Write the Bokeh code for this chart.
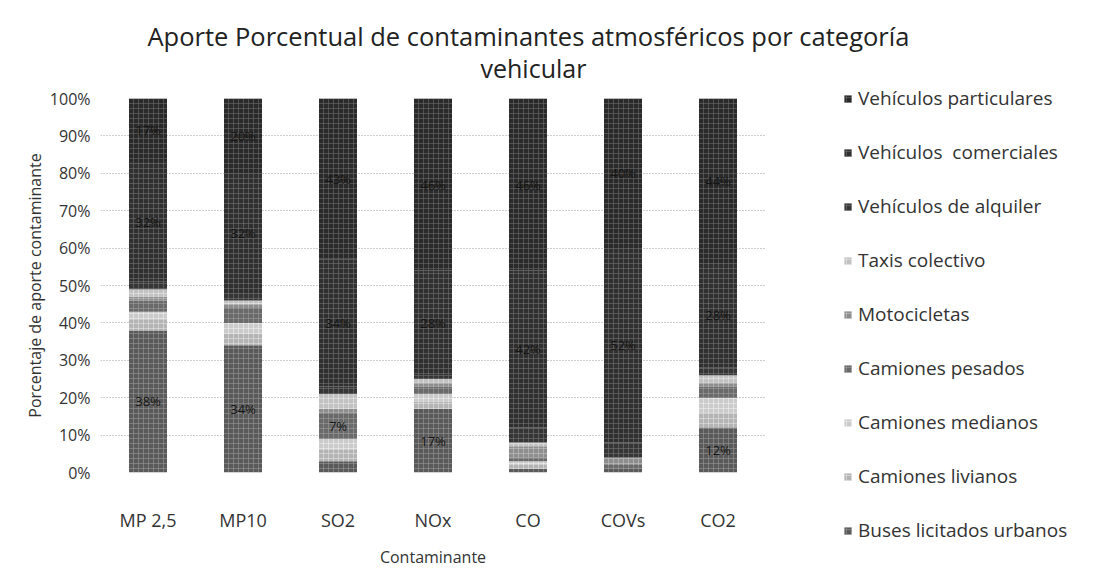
from bokeh.plotting import figure
from bokeh.models import (ColumnDataSource, Legend, LegendItem, Title, NumeralTickFormatter,
                          FixedTicker)
from bokeh.core.properties import value
from bokeh.embed import file_html
from bokeh.resources import INLINE

contaminantes = ["MP 2,5", "MP10", "SO2", "NOx", "CO", "COVs", "CO2"]

buses = [38, 34, 3, 17, 1, 1, 12]
cam_livianos = [3, 3, 3, 2, 1, 0, 4]
cam_medianos = [2, 3, 3, 2, 1, 0, 4]
cam_pesados = [3, 4, 7, 2, 1, 1, 3]
motos = [1, 1, 1, 1, 3, 2, 1]
taxis = [2, 1, 4, 1, 1, 0, 2]
alquiler = [2, 2, 2, 1, 4, 4, 2]
comerciales = [32, 32, 34, 28, 42, 52, 28]
particulares = [17, 20, 43, 46, 46, 40, 44]

series_names = ["Buses licitados urbanos", "Camiones livianos", "Camiones medianos",
                "Camiones pesados", "Motocicletas", "Taxis colectivo",
                "Vehículos de alquiler", "Vehículos  comerciales", "Vehículos particulares"]
series_vals = [buses, cam_livianos, cam_medianos, cam_pesados, motos, taxis,
               alquiler, comerciales, particulares]
fills = ["#5a5a5a", "#b4b4b4", "#cbcbcb", "#6a6a6a", "#8e8e8e", "#c2c2c2",
         "#363636", "#303030", "#2a2a2a"]
hatches = ["#9a9a9a", "#e8e8e8", "#f2f2f2", "#a0a0a0", "#c8c8c8", "#ececec",
           "#7a7a7a", "#777777", "#707070"]

keys = [f"s{i}" for i in range(len(series_names))]
data = {"x": contaminantes}
for k, vals in zip(keys, series_vals):
    data[k] = [v / 100 for v in vals]
source = ColumnDataSource(data)

FONT = "Open Sans"
FW, FH = 665, 374

p = figure(x_range=contaminantes, y_range=(0, 1.0), frame_width=FW, frame_height=FH,
           output_backend="svg", toolbar_location=None,
           min_border_left=100, min_border_right=10, min_border_top=98, min_border_bottom=96)

renderers = p.vbar_stack(keys, x="x", width=0.4, source=source, fill_color=fills,
                         line_color=None, hatch_pattern="+", hatch_color=hatches,
                         hatch_scale=5, hatch_weight=1, hatch_alpha=0.55)

# segment labels
lx, ly, lt = [], [], []
for i, c in enumerate(contaminantes):
    base = 0
    for vals in series_vals:
        v = vals[i]
        if v >= 5:
            lx.append(c)
            ly.append((base + v / 2) / 100)
            lt.append(f"{v}%")
        base += v
lsrc = ColumnDataSource(dict(x=lx, y=ly, t=lt))
p.text(x="x", y="y", text="t", source=lsrc, text_align="center", text_baseline="middle",
       text_font=value(FONT), text_font_size="13px", text_color="#141414")

# axes
p.yaxis.ticker = FixedTicker(ticks=[i / 10 for i in range(11)])
p.yaxis.formatter = NumeralTickFormatter(format="0%")
p.yaxis.axis_line_color = None
p.yaxis.major_tick_line_color = None
p.yaxis.minor_tick_line_color = None
p.yaxis.major_label_text_font = FONT
p.yaxis.major_label_text_font_size = "16px"
p.yaxis.major_label_text_color = "#333333"
p.yaxis.axis_label = "Porcentaje de aporte contaminante"
p.yaxis.axis_label_text_font = FONT
p.yaxis.axis_label_text_font_size = "16px"
p.yaxis.axis_label_text_font_style = "normal"
p.yaxis.axis_label_text_color = "#333333"
p.yaxis.major_label_standoff = 4
p.yaxis.axis_label_standoff = 1

p.xaxis.axis_line_color = None
p.xaxis.major_tick_line_color = None
p.xaxis.major_label_text_font = FONT
p.xaxis.major_label_text_font_size = "18px"
p.xaxis.major_label_text_color = "#333333"
p.xaxis.major_label_standoff = 29
p.xaxis.axis_label = "Contaminante"
p.xaxis.axis_label_text_font = FONT
p.xaxis.axis_label_text_font_size = "16px"
p.xaxis.axis_label_text_font_style = "normal"
p.xaxis.axis_label_text_color = "#333333"
p.xaxis.axis_label_standoff = 11

p.xgrid.grid_line_color = None
p.ygrid.grid_line_color = "#9a9a9a"
p.ygrid.grid_line_dash = "1 2"
p.outline_line_color = None

# titles (first added is closest to the frame)
p.add_layout(Title(text="vehicular", align="left", offset=380, text_font=FONT,
                   text_font_size="25px", text_font_style="normal", text_color="#222222",
                   standoff=28), "above")
p.add_layout(Title(text="Aporte Porcentual de contaminantes atmosféricos por categoría",
                   align="left", offset=47, text_font=FONT, text_font_size="25.5px",
                   text_font_style="normal", text_color="#222222", standoff=-36), "above")

items = [LegendItem(label=n, renderers=[r]) for n, r in zip(series_names, renderers)][::-1]
lab_h, spc = 20, 28
legend = Legend(items=items, location=(78, -71), label_text_font=FONT,
                label_text_font_size="19px", label_text_color="#333333",
                glyph_width=9, glyph_height=9, label_height=lab_h, spacing=spc,
                border_line_color=None, background_fill_alpha=0, padding=0, margin=0,
                label_standoff=6)
p.add_layout(legend, "right")

open("out.html", "w").write(file_html(p, INLINE))
